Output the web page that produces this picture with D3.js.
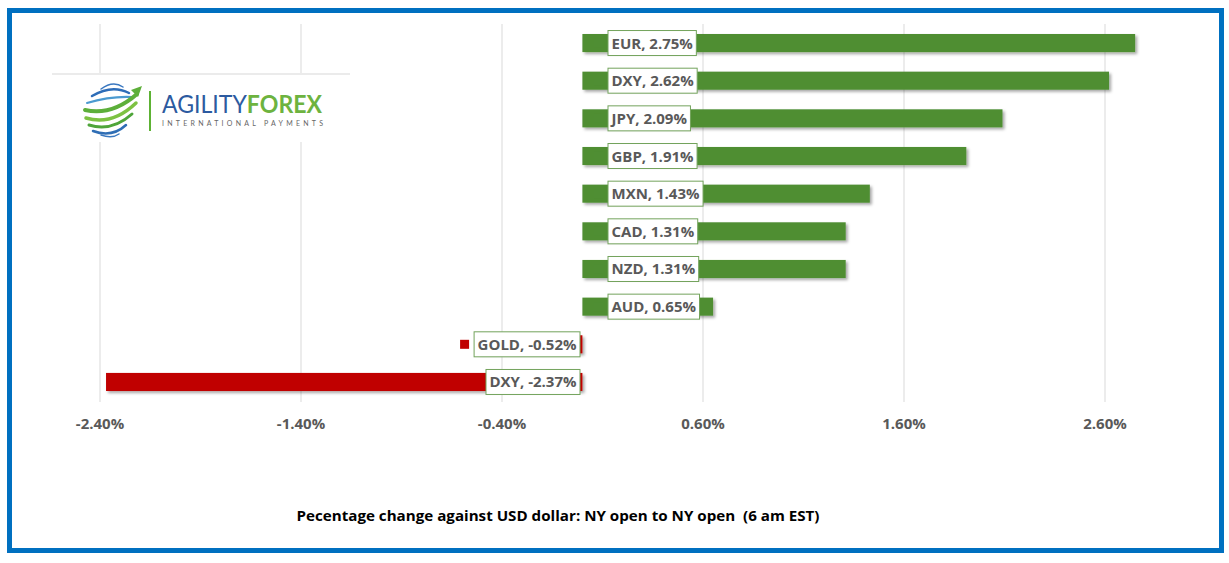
<!DOCTYPE html>
<html>
<head>
<meta charset="utf-8">
<script src="https://cdn.jsdelivr.net/npm/d3@7"></script>
<style>
  body { margin: 0; background: #fff; }
  svg { display: block; font-family: "Open Sans", Lato, sans-serif; }
</style>
</head>
<body>
<svg width="1229" height="563"></svg>
<script>
var currencies = ['EUR', 'DXY', 'JPY', 'GBP', 'MXN', 'CAD', 'NZD', 'AUD', 'GOLD', 'DXY'];
var changes = [2.75, 2.62, 2.09, 1.91, 1.43, 1.31, 1.31, 0.65, -0.52, -2.37];
var tickValues = [-2.4, -1.4, -0.4, 0.6, 1.6, 2.6];
var chartTitle = 'Pecentage change against USD dollar: NY open to NY open  (6 am EST)';

var svg = d3.select('svg');
var green = '#4F8E33', red = '#C00000', grey = '#595959';

// plain hyphen for negatives, like the original
var pct = function(v) {
  return d3.format('.2f')(v).replace('\u2212', '-') + '%';
};

var defs = svg.append('defs');
var f = defs.append('filter').attr('id', 'shadow')
  .attr('x', '-5%').attr('y', '-30%').attr('width', '115%').attr('height', '180%');
f.append('feDropShadow')
  .attr('dx', 2).attr('dy', 2).attr('stdDeviation', 1.5)
  .attr('flood-color', '#000').attr('flood-opacity', 0.35);

var x = d3.scaleLinear()
  .domain([-2.4, 2.6])
  .range([100, 1105]);

var y = d3.scaleBand()
  .domain(d3.range(currencies.length))
  .range([24.2, 400.8])
  .paddingInner(0.52)
  .paddingOuter(0.26);

// gridlines
svg.selectAll('.grid')
  .data(tickValues)
  .enter()
  .append('line')
  .attr('class', 'grid')
  .attr('x1', function(d) { return x(d); })
  .attr('x2', function(d) { return x(d); })
  .attr('y1', 24)
  .attr('y2', 402)
  .attr('stroke', '#D9D9D9')
  .attr('stroke-width', 1);

// tick labels
svg.selectAll('.tick-label')
  .data(tickValues)
  .enter()
  .append('text')
  .attr('class', 'tick-label')
  .attr('x', function(d) { return x(d); })
  .attr('y', 429)
  .attr('text-anchor', 'middle')
  .attr('font-size', 15)
  .attr('font-weight', 'bold')
  .attr('fill', grey)
  .text(function(d) { return pct(d); });

// logo box
var logo = svg.append('g');
logo.append('rect')
  .attr('x', 52).attr('y', 74).attr('width', 298).attr('height', 68)
  .attr('fill', '#fff');
logo.append('line')
  .attr('x1', 52).attr('x2', 350).attr('y1', 74).attr('y2', 74)
  .attr('stroke', '#EBEBEB').attr('stroke-width', 2);

var swooshes = [
  ['M101,89 Q113,80 123,87', '#3A78C0', 1.5],
  ['M92,96 Q112,84 129,93', '#2E6DB8', 2.5],
  ['M87,103 Q110,96 132,97', '#4B9AD0', 2],
  ['M85,110 Q112,116 137,94', '#5DAF3A', 4],
  ['M86,118 Q112,126 136,103', '#7DC242', 3.5],
  ['M89,125 Q112,132 132,114', '#4FA53A', 3],
  ['M93,131 Q112,138 126,125', '#2F6EB5', 2.5],
  ['M101,135 Q112,139 119,134', '#3A78C0', 1.5]
];
logo.selectAll('.swoosh')
  .data(swooshes)
  .enter()
  .append('path')
  .attr('d', function(d) { return d[0]; })
  .attr('fill', 'none')
  .attr('stroke', function(d) { return d[1]; })
  .attr('stroke-width', function(d) { return d[2]; })
  .attr('stroke-linecap', 'round');
logo.append('path')
  .attr('d', 'M142,86 L131,90 L138,97 Z')
  .attr('fill', '#5DAF3A');
logo.append('line')
  .attr('x1', 150).attr('x2', 150).attr('y1', 91).attr('y2', 131)
  .attr('stroke', '#5DB234').attr('stroke-width', 2);
var brand = logo.append('text')
  .attr('x', 162).attr('y', 113)
  .attr('font-family', 'Lato, sans-serif')
  .attr('font-size', 25)
  .attr('textLength', 160)
  .attr('lengthAdjust', 'spacingAndGlyphs');
brand.append('tspan')
  .attr('font-weight', 400)
  .attr('fill', '#2C5AA0')
  .text('AGILITY');
brand.append('tspan')
  .attr('font-weight', 'bold')
  .attr('fill', '#6DB33F')
  .text('FOREX');
logo.append('text')
  .attr('x', 162).attr('y', 126)
  .attr('font-family', 'Lato, sans-serif')
  .attr('font-size', 7)
  .attr('fill', '#666')
  .attr('textLength', 161)
  .attr('lengthAdjust', 'spacing')
  .text('INTERNATIONAL PAYMENTS');

// bars
var rows = currencies.map(function(c, i) {
  return { name: c, value: changes[i], i: i };
});

svg.selectAll('.bar')
  .data(rows)
  .enter()
  .append('rect')
  .attr('class', 'bar')
  .attr('x', function(d) { return x(Math.min(0, d.value)); })
  .attr('width', function(d) { return Math.abs(x(d.value) - x(0)); })
  .attr('y', function(d) { return y(d.i); })
  .attr('height', y.bandwidth())
  .attr('fill', function(d) { return d.value >= 0 ? green : red; })
  .attr('filter', 'url(#shadow)');

// data labels with legend keys
var lab = svg.selectAll('.label')
  .data(rows)
  .enter()
  .append('g')
  .attr('class', 'label');

lab.each(function(d) {
  var g = d3.select(this);
  var cy = y(d.i) + y.bandwidth() / 2;
  var box = g.append('rect');
  var key = g.append('rect');
  var t = g.append('text')
    .attr('font-size', 15)
    .attr('font-weight', 'bold')
    .attr('fill', grey)
    .text(d.name + ', ' + pct(d.value));
  var w = t.node().getComputedTextLength() + 7;
  var bx = d.value >= 0 ? x(0) + 25.6 : x(0) - 2.4 - w;
  box.attr('x', bx).attr('y', cy - 12.5)
    .attr('width', w).attr('height', 25)
    .attr('fill', '#fff')
    .attr('stroke', '#73A35C')
    .attr('stroke-width', 1);
  key.attr('x', bx - 14).attr('y', cy - 4.5)
    .attr('width', 9).attr('height', 9)
    .attr('fill', d.value >= 0 ? green : red);
  t.attr('x', bx + 3.5).attr('y', cy + 5.5);
});

// title
svg.append('text')
  .attr('x', 558)
  .attr('y', 521)
  .attr('text-anchor', 'middle')
  .attr('font-size', 14)
  .attr('font-weight', 'bold')
  .attr('fill', '#000')
  .style('white-space', 'pre')
  .attr('textLength', 523)
  .attr('lengthAdjust', 'spacingAndGlyphs')
  .text(chartTitle);

// outer border
svg.append('rect')
  .attr('x', 9.5).attr('y', 10.5)
  .attr('width', 1212).attr('height', 540)
  .attr('fill', 'none')
  .attr('stroke', '#0070C0')
  .attr('stroke-width', 5);
</script>
</body>
</html>
